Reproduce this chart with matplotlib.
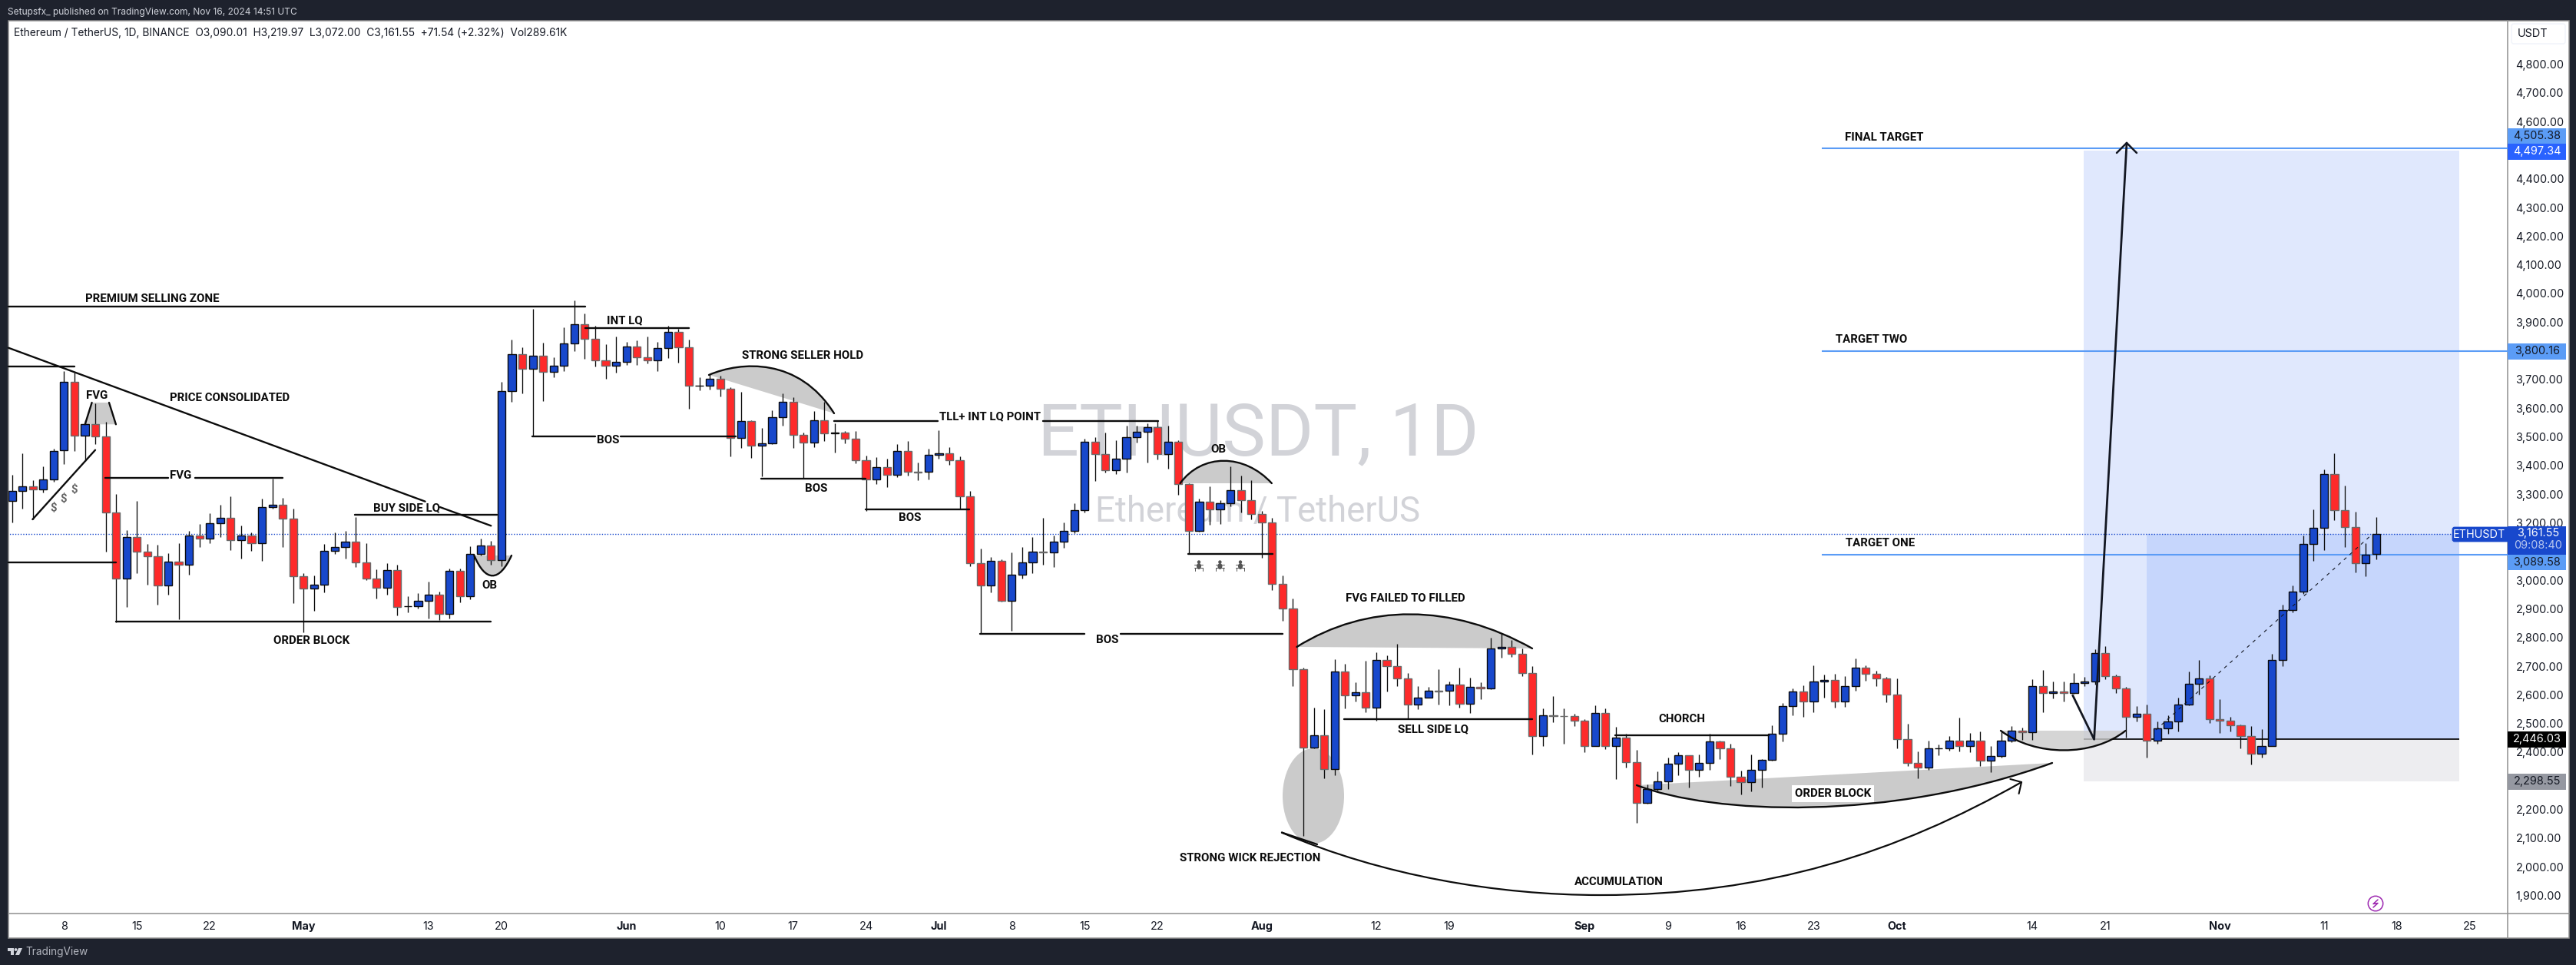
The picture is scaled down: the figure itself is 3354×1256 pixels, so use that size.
import matplotlib
matplotlib.use('Agg')
import matplotlib.pyplot as plt
import numpy as np
from matplotlib.patches import Rectangle, Ellipse, Circle, PathPatch, Polygon, FancyBboxPatch
from matplotlib.path import Path

# ETHUSDT daily candles (first candle is Apr 3 2024)
opens = [3277,3310,3326,3316,3350,3452,3693,3503,3543,3501,
         3235,3005,3151,3100,3082,2982,3064,3055,3155,3146,
         3198,3216,3139,3155,3130,3254,3262,3214,3013,2970,
         2983,3101,3115,3133,3061,3005,2973,3034,2908,2909,
         2927,2948,2881,3032,2943,3091,3120,3069,3659,3787,
         3736,3782,3726,3747,3825,3892,3843,3766,3747,3761,
         3814,3778,3766,3809,3865,3812,3678,3679,3703,3667,
         3496,3556,3468,3478,3568,3621,3508,3481,3559,3511,
         3516,3493,3419,3351,3393,3368,3450,3377,3377,3436,
         3442,3419,3293,3058,2981,3066,2929,3018,3063,3099,
         3098,3133,3173,3243,3482,3441,3384,3425,3500,3517,
         3533,3440,3482,3334,3173,3273,3246,3267,3315,3278,
         3230,3201,2988,2902,2689,2417,2460,2342,2681,2597,
         2608,2554,2721,2701,2658,2567,2591,2613,2613,2636,
         2570,2629,2621,2761,2766,2744,2677,2455,2528,2527,
         2525,2511,2422,2536,2422,2450,2366,2224,2272,2297,
         2359,2388,2339,2362,2437,2414,2315,2294,2339,2372,
         2463,2560,2611,2578,2646,2651,2578,2630,2694,2673,
         2656,2600,2446,2361,2347,2413,2414,2439,2420,2439,
         2370,2386,2439,2474,2469,2630,2605,2611,2605,2640,
         2646,2745,2664,2621,2522,2533,2439,2482,2506,2565,
         2638,2656,2516,2509,2493,2455,2395,2421,2721,2895,
         2959,3125,3182,3369,3243,3184,3058,3090.01]
closes = [3310,3326,3316,3350,3451,3693,3503,3543,3501,3235,
          3005,3151,3100,3082,2982,3064,3055,3155,3146,3198,
          3216,3139,3155,3130,3254,3262,3214,3013,2970,2983,
          3101,3115,3133,3061,3005,2973,3034,2907,2909,2927,
          2948,2881,3032,2943,3091,3120,3069,3659,3787,3736,
          3782,3726,3747,3825,3892,3843,3766,3747,3761,3814,
          3778,3766,3809,3865,3812,3678,3679,3703,3667,3496,
          3556,3468,3478,3568,3621,3508,3481,3559,3511,3516,
          3493,3419,3351,3393,3368,3450,3377,3376,3436,3442,
          3419,3293,3058,2981,3066,2929,3018,3063,3099,3098,
          3133,3173,3243,3482,3441,3384,3425,3500,3517,3533,
          3440,3482,3334,3173,3273,3246,3267,3315,3278,3230,
          3201,2988,2902,2689,2417,2460,2342,2681,2597,2608,
          2554,2721,2701,2658,2567,2591,2613,2612,2636,2570,
          2629,2621,2761,2766,2744,2677,2455,2528,2527,2525,
          2511,2422,2536,2422,2450,2366,2224,2272,2297,2359,
          2388,2339,2362,2437,2414,2315,2294,2339,2372,2463,
          2560,2611,2578,2646,2651,2578,2630,2694,2673,2656,
          2600,2446,2361,2347,2413,2414,2439,2420,2439,2370,
          2386,2439,2474,2469,2630,2605,2611,2605,2640,2646,
          2745,2664,2621,2522,2533,2439,2482,2506,2565,2638,
          2656,2516,2509,2493,2455,2395,2421,2721,2895,2959,
          3125,3182,3369,3243,3184,3058,3088,3161.55]
highs = [3367,3443,3348,3396,3458,3728,3724,3559,3617,3552,
         3300,3175,3276,3125,3123,3094,3128,3172,3196,3233,
         3262,3292,3190,3166,3284,3355,3286,3249,3023,3015,
         3125,3166,3172,3221,3128,3037,3058,3054,2944,2954,
         2994,2960,3041,3041,3117,3144,3136,3693,3838,3812,
         3947,3828,3778,3882,3976,3931,3887,3823,3849,3831,
         3836,3849,3831,3887,3876,3838,3708,3719,3712,3673,
         3657,3559,3532,3593,3652,3639,3516,3590,3621,3547,
         3519,3520,3434,3429,3425,3474,3485,3409,3459,3523,
         3464,3432,3310,3110,3081,3072,3096,3116,3149,3217,
         3156,3202,3268,3493,3499,3515,3489,3540,3540,3547,
         3556,3539,3489,3339,3284,3327,3279,3397,3366,3348,
         3241,3217,3016,2935,2696,2556,2551,2723,2707,2643,
         2720,2748,2737,2779,2676,2630,2627,2689,2646,2694,
         2661,2644,2800,2814,2791,2763,2701,2552,2596,2553,
         2533,2515,2563,2552,2488,2463,2408,2286,2332,2380,
         2400,2390,2391,2463,2440,2429,2335,2391,2376,2494,
         2572,2622,2633,2703,2670,2673,2665,2726,2703,2683,
         2663,2656,2498,2402,2440,2427,2455,2521,2467,2472,
         2421,2476,2491,2486,2654,2686,2646,2646,2676,2663,
         2759,2770,2670,2627,2561,2566,2506,2529,2589,2681,
         2722,2668,2585,2522,2496,2491,2480,2743,2915,2982,
         3157,3246,3386,3443,3330,3238,3129,3219.97]
lows = [3201,3250,3212,3307,3344,3405,3451,3416,3475,3099,
        2853,2907,3023,2985,2915,2949,2864,3020,3116,3130,
        3151,3106,3074,3103,3066,3250,3116,2921,2817,2894,
        2958,3092,3074,3047,2999,2937,2949,2878,2887,2902,
        2865,2862,2865,2923,2933,3085,3054,3048,3623,3652,
        3502,3626,3709,3730,3798,3772,3744,3703,3725,3752,
        3752,3757,3730,3776,3760,3599,3661,3666,3642,3433,
        3462,3426,3362,3474,3539,3462,3356,3464,3485,3445,
        3476,3407,3241,3335,3325,3360,3366,3349,3351,3425,
        3403,3250,3049,2815,2956,2924,2824,3005,3024,3054,
        3046,3113,3164,3235,3347,3376,3369,3376,3481,3410,
        3422,3389,3298,3091,3169,3193,3197,3258,3235,3212,
        3079,2966,2858,2630,2109,2412,2309,2320,2553,2578,
        2540,2511,2612,2631,2516,2550,2589,2566,2564,2556,
        2537,2586,2620,2730,2733,2666,2391,2420,2505,2430,
        2491,2400,2422,2411,2306,2346,2152,2221,2267,2272,
        2320,2277,2314,2337,2376,2283,2253,2263,2277,2370,
        2437,2529,2524,2540,2591,2554,2558,2614,2649,2630,
        2574,2413,2352,2308,2339,2390,2406,2403,2400,2352,
        2330,2381,2435,2442,2442,2538,2588,2576,2603,2631,
        2637,2655,2607,2451,2507,2381,2430,2465,2473,2562,
        2601,2503,2467,2471,2412,2358,2382,2420,2701,2887,
        2953,3067,3106,3208,3116,3028,3014,3072]

# axis labels
price_ticks = list(range(1900, 4900, 100))
date_pos = [5,12,19,28,40,47,59,68,75,82,89,96,103,110,120,131,138,151,159,166,173,181,194,201,212,222,229,236]
date_labels = ['8','15','22','May','13','20','Jun','10','17','24','Jul','8','15','22','Aug','12','19','Sep','9','16','23','Oct','14','21','Nov','11','18','25']
months = ['May','Jun','Jul','Aug','Sep','Oct','Nov']

# levels on the chart
last_price = 3161.55
entry = 2446.03
stop = 2298.55
target_box = 4497.34
final_target = 4505.38
target_two = 3800.16
target_one = 3089.58

W, H = 3355, 1256
L, R, T, B = 11, 3265, 27, 1189
BLUE = '#1848cc'
RED = '#fe2a2a'
TAG = '#5b9cf6'
DARK = '#1e222d'
SHADE = '#cbcbcb'

plt.rcParams['font.family'] = ['Inter', 'DejaVu Sans']
fig = plt.figure(figsize=(W / 100, H / 100), dpi=100, facecolor=DARK)


def box(x0, y0, x1, y1):
    return [x0 / W, 1 - y1 / H, (x1 - x0) / W, (y1 - y0) / H]


# background layer: white panes, watermark
bg = fig.add_axes([0, 0, 1, 1], zorder=0)
bg.set_xlim(0, W)
bg.set_ylim(H, 0)
bg.axis('off')
bg.add_patch(Rectangle((L, T), 3345 - L, 1221 - T, fc='white', ec='#8f8f8f', lw=1.1))
bg.plot([R, R], [T, 1221], color='#8f8f8f', lw=1.1)
bg.plot([L, 3345], [B, B], color='#8f8f8f', lw=1.1)
bg.text(1638, 566, 'ETHUSDT, 1D', fontsize=68.5, color='#d2d3d8', ha='center', va='center', family='Roboto')
bg.text(1638, 666, 'Ethereum / TetherUS', fontsize=32.8, color='#d2d3d8', ha='center', va='center', family='Roboto')

# price axes, real scale
ax = fig.add_axes(box(L, T, R, B), zorder=1)
ax.patch.set_alpha(0)
ax.set_xlim((L - 15.6) / 13.56, (R - 15.6) / 13.56)
ax.set_ylim(4800 - (B - 83.5) / .3731, 4800 + (83.5 - T) / .3731)
for s in ax.spines.values():
    s.set_visible(False)
ax.yaxis.tick_right()
ax.set_yticks(price_ticks)
ax.set_yticklabels(['{:,.2f}'.format(p) for p in price_ticks])
ax.set_xticks(date_pos)
ax.set_xticklabels(date_labels)
ax.tick_params(axis='both', length=0, labelsize=10.4, labelcolor='#131722')
ax.tick_params(axis='y', pad=7.5)
ax.tick_params(axis='x', pad=7)
for t in ax.get_yticklabels():
    t.set_ha('left')
for t in ax.get_xticklabels():
    if t.get_text() in months:
        t.set_fontweight('bold')

# top layer for the hand drawn stuff, in picture pixels
ov = fig.add_axes([0, 0, 1, 1], zorder=2)
ov.set_xlim(0, W)
ov.set_ylim(H, 0)
ov.axis('off')
ov.patch.set_alpha(0)

# position boxes and levels
x_box0, x_box1, x_box2 = 198.9, 205.0, 235.0
ax.add_patch(Rectangle((x_box0, entry), x_box2 - x_box0, target_box - entry, fc='#e0e8fd', ec='none', zorder=1))
ax.add_patch(Rectangle((x_box0, stop), x_box2 - x_box0, entry - stop, fc='#ededf0', ec='none', zorder=1))
ax.add_patch(Rectangle((x_box1, entry), x_box2 - x_box1, last_price - entry, fc='#c6d6fc', ec='none', zorder=1))
ax.hlines(entry, x_box0, x_box2, color='black', lw=1.2, zorder=1.5)
ax.hlines([final_target, target_two, target_one], 173.8, 239.6, color=TAG, lw=1.5, zorder=1.5)
ax.plot([-1, 234.2], [last_price, last_price], color=BLUE, lw=1.0, ls=(0, (1, 1.5)), zorder=1.5)


def shade(verts, codes=None, alpha=1.0):
    p = Path(verts, codes) if codes else Path(verts)
    ax.add_patch(PathPatch(p, fc=SHADE, ec='none', alpha=alpha, transform=ov.transData, zorder=2))


def curve(verts, lw=1.7):
    codes = [Path.MOVETO] + [Path.CURVE4] * (len(verts) - 1)
    ov.add_patch(PathPatch(Path(verts, codes), fc='none', ec='#0c0c0c', lw=lw, capstyle='round'))


def filled_arc(p0, c1, c2, p3, alpha=1.0):
    codes = [Path.MOVETO, Path.CURVE4, Path.CURVE4, Path.CURVE4, Path.CLOSEPOLY]
    shade([p0, c1, c2, p3, p0], codes, alpha)
    curve([p0, c1, c2, p3])


# grey shapes (below the candles)
ax.add_patch(Ellipse((1710, 1036), 80, 124, fc=SHADE, ec='none', transform=ov.transData, zorder=2))
shade([(110.7, 552.3), (119.6, 524), (142, 524), (150.9, 552.3), (110.7, 552.3)])
filled_arc((923, 488), (965, 470), (1040, 465), (1086, 538))
filled_arc((1536.6, 629), (1565, 590), (1620, 590), (1655.8, 629))
filled_arc((1688.4, 842), (1780, 785), (1890, 785), (1995, 844))
filled_arc((2131, 1022), (2230, 1060), (2460, 1070), (2672, 993))
filled_arc((617.4, 723), (632, 758), (650, 758), (666, 723))
filled_arc((2605, 951), (2650, 985), (2725, 985), (2767.5, 951), alpha=.8)

# candles
idx = np.arange(len(opens))
o = np.array(opens, float)
c = np.array(closes, float)
up = c >= o
ax.vlines(idx, lows, highs, color='#0a0a0a', lw=.95, zorder=3)
ax.bar(idx[up], (c - o)[up], bottom=o[up], width=.75, color=BLUE, edgecolor='#0a0a0a', lw=1.0, zorder=4)
ax.bar(idx[~up], (o - c)[~up], bottom=c[~up], width=.75, color=RED, edgecolor='#6a6a6a', lw=1.0, zorder=4)


# hand drawn lines and words
def seg(xs, ys, lw=1.7, color='#0c0c0c'):
    ov.plot(xs, ys, color=color, lw=lw, solid_capstyle='round')


def word(x, y, s, **kw):
    kw.setdefault('color', '#0c0c0c')
    ov.text(x, y, s, ha='center', va='center', family='Roboto', fontweight='bold', fontsize=10.8, **kw)


seg([11, 761.6], [399, 399])
seg([11, 553.6], [452.7, 652.7])
seg([572.8, 639.3], [660, 684.3])
seg([11, 97], [477, 477])
seg([42.4, 124], [676, 585.7])
seg([110.7, 119.6], [552.3, 524])
seg([142, 150.9], [524, 552.3])
seg([136.6, 218.8], [622, 622])
seg([253.6, 368.3], [622, 622])
seg([11, 151], [732, 732])
seg([151, 639], [809.3, 809.3])
seg([462, 647], [670, 670])
seg([761.6, 897], [427, 427])
seg([1086, 1221], [548, 548])
seg([1358, 1507.6], [548, 548])
seg([693.3, 775], [568, 568])
seg([808.5, 958], [568, 568])
seg([991.5, 1126.8], [623, 623])
seg([1126.8, 1262.5], [662.7, 662.7])
seg([1276, 1411.6], [825, 825])
seg([1459, 1670.5], [825, 825])
seg([1546.9, 1657], [721, 721])
seg([1750, 1995], [936, 936])
seg([2102.7, 2302.7], [957.3, 957.3])
seg([2698.7, 2726.6, 2769], [905, 962.3, 186], lw=2.0, color='#131722')
seg([2756, 2769, 2782], [199, 186, 199], lw=1.8, color='#131722')
seg([2807, 3088.7], [950, 695.3], lw=.8, color='#131722')
ov.lines[-1].set_linestyle((0, (4, 5)))
seg([2617.4, 2632, 2628.6], [1014, 1018, 1033], lw=1.5)
seg([1669, 1715], [1083.6, 1099])
curve([(1669, 1083.6), (1800, 1140), (1950, 1165), (2084, 1165),
       (2300, 1165), (2470, 1110), (2632, 1018)], lw=1.6)

word(198.4, 389, 'PREMIUM SELLING ZONE')
word(126, 515, 'FVG')
word(299, 518, 'PRICE CONSOLIDATED')
word(235, 619, 'FVG')
word(530, 661.7, 'BUY SIDE LQ')
word(637, 762, 'OB')
word(406, 834, 'ORDER BLOCK')
word(813, 417, 'INT LQ')
word(1045.5, 463, 'STRONG SELLER HOLD')
word(1289.5, 542.3, 'TLL+ INT LQ POINT')
word(792, 573, 'BOS')
word(1063, 636, 'BOS')
word(1185, 674, 'BOS')
word(1442, 833, 'BOS')
word(1586, 585, 'OB')
word(1830, 779, 'FVG FAILED TO FILLED')
word(1866, 949, 'SELL SIDE LQ')
word(2190, 936, 'CHORCH')
word(2386.6, 1033, 'ORDER BLOCK', bbox=dict(fc='white', ec='none', pad=3))
word(1628, 1117, 'STRONG WICK REJECTION')
word(2108, 1148, 'ACCUMULATION')
word(2453, 179, 'FINAL TARGET')
word(2437, 442, 'TARGET TWO')
word(2448, 707, 'TARGET ONE')
for x, y in [(69.2, 660.7), (83, 649), (96.4, 636.7)]:
    word(x, y, '$', color='#666666')
# little bug icons under the OB
for x in [1561, 1588.4, 1615]:
    ov.add_patch(Ellipse((x, 737), 6, 8, fc='#555555', ec='none'))
    ov.add_patch(Circle((x, 731.5), 2.2, fc='#555555', ec='none'))
    seg([x - 5.5, x + 5.5], [735, 735], lw=.7, color='#555555')
    seg([x - 5.5, x + 5.5], [739, 739], lw=.7, color='#555555')
    seg([x - 5, x - 5, x + 5, x + 5], [743, 739, 739, 743], lw=.7, color='#555555')


# price tags on the right axis
def tag(y0, y1, s, fc, tc, x0=R + .5, x1=3341):
    ov.add_patch(Rectangle((x0, y0), x1 - x0, y1 - y0, fc=fc, ec='none'))
    ov.text((x0 + x1) / 2, (y0 + y1) / 2, s, color=tc, fontsize=10.4, ha='center', va='center')


tag(167, 187, '4,505.38', TAG, '#131722')
tag(187, 208, '4,497.34', '#2962ff', 'white')
tag(447, 467.7, '3,800.16', TAG, '#131722')
tag(721.7, 741.7, '3,089.58', TAG, '#131722')
tag(952, 972.7, '2,446.03', 'black', 'white')
tag(1007, 1027.7, '2,298.55', '#9598a1', '#131722')
ov.add_patch(Rectangle((R + .5, 685), 3341 - R, 36.7, fc=BLUE, ec='none'))
ov.text(3305, 694, '3,161.55', color='white', fontsize=10.4, ha='center', va='center')
ov.text(3305, 710, '09:08:40', color='#b6c5ee', fontsize=10.4, ha='center', va='center')
ov.add_patch(FancyBboxPatch((3194, 687), 72, 17, boxstyle='round,pad=0,rounding_size=2', fc=BLUE, ec=BLUE, lw=2))
ov.text(3228, 695.5, 'ETHUSDT', color='white', fontsize=10.4, ha='center', va='center')
ov.add_patch(FancyBboxPatch((3270, 31), 70, 26, boxstyle='round,pad=0,rounding_size=3', fc='white', ec='#f0f3fa', lw=1))
ov.text(3278, 44, 'USDT', color='#131722', fontsize=10.4, ha='left', va='center')

# header, footer
ov.text(10, 15.7, 'Setupsfx_ published on TradingView.com, Nov 16, 2024 14:51 UTC', color='#d1d4dc', fontsize=8.6, ha='left', va='center')
ov.text(18, 42.7, 'Ethereum / TetherUS, 1D, BINANCE  O3,090.01  H3,219.97  L3,072.00  C3,161.55  +71.54 (+2.32%)  Vol289.61K',
        color='#131722', fontsize=9.9, ha='left', va='center')
ov.text(33.5, 1239.5, 'TradingView', color='#b2b5be', fontsize=9.8, ha='left', va='center')
ov.add_patch(Polygon([(10, 1234), (18, 1234), (18, 1243), (14, 1243), (14, 1238), (10, 1238)], fc='#d1d4dc', ec='none'))
ov.add_patch(Circle((20.5, 1236), 1.9, fc='#d1d4dc', ec='none'))
ov.add_patch(Polygon([(24, 1234), (29, 1234), (25, 1243), (20, 1243)], fc='#d1d4dc', ec='none'))

# purple flash icon
ov.add_patch(Circle((3093, 1176), 9.7, fc='white', ec='#9c27b0', lw=1.1))
seg([3096, 3090, 3096, 3090], [1171, 1176.5, 1175.5, 1181], lw=1.1, color='#9c27b0')

fig.savefig('out.png', dpi=100, facecolor=DARK)
